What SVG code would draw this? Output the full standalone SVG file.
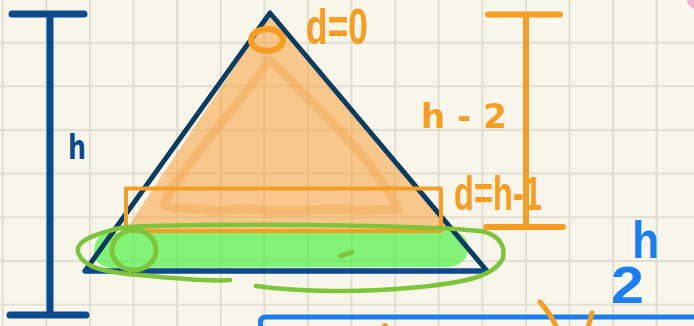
<svg xmlns="http://www.w3.org/2000/svg" width="694" height="326" viewBox="0 0 694 326">
<style>
.grid line{stroke:#e2dfd2;stroke-width:2}
.ink{fill:none;stroke-linecap:round;stroke-linejoin:round}
.hw{font-family:"Liberation Sans","DejaVu Sans",sans-serif;font-weight:bold}
.rd{font-family:"DejaVu Sans","Liberation Sans",sans-serif;font-weight:bold}
.or{stroke:#f59e25}
.gr{stroke:#7dc43a}
</style>
<rect width="694" height="326" fill="#f8f6ea"/>
<g class="grid" id="grid">
<line x1="2.7" y1="0" x2="2.7" y2="326"/><line x1="46.3" y1="0" x2="46.3" y2="326"/><line x1="89.9" y1="0" x2="89.9" y2="326"/><line x1="133.5" y1="0" x2="133.5" y2="326"/><line x1="177.1" y1="0" x2="177.1" y2="326"/><line x1="220.7" y1="0" x2="220.7" y2="326"/><line x1="264.3" y1="0" x2="264.3" y2="326"/><line x1="307.9" y1="0" x2="307.9" y2="326"/><line x1="351.5" y1="0" x2="351.5" y2="326"/><line x1="395.1" y1="0" x2="395.1" y2="326"/><line x1="438.7" y1="0" x2="438.7" y2="326"/><line x1="482.3" y1="0" x2="482.3" y2="326"/><line x1="525.9" y1="0" x2="525.9" y2="326"/><line x1="569.5" y1="0" x2="569.5" y2="326"/><line x1="613.1" y1="0" x2="613.1" y2="326"/><line x1="656.7" y1="0" x2="656.7" y2="326"/>
<line x1="0" y1="42.7" x2="694" y2="42.7"/><line x1="0" y1="86.3" x2="694" y2="86.3"/><line x1="0" y1="130" x2="694" y2="130"/><line x1="0" y1="173.6" x2="694" y2="173.6"/><line x1="0" y1="217.3" x2="694" y2="217.3"/><line x1="0" y1="261" x2="694" y2="261"/><line x1="0" y1="304.6" x2="694" y2="304.6"/>
</g>
<circle id="pink-dot" cx="701" cy="-4" r="15" fill="#f5b3d6"/>
<g id="fills">
<path d="M270,14 L455,231 L125,231 Z" fill="#f5a03c" fill-opacity="0.55"/>
<path d="M269,60 C250,90 215,130 200,150 C185,170 172,185 164,204 C175,212 190,206 205,210 C225,213 240,206 260,210 C290,214 320,207 350,210 C370,212 385,208 398,210 C390,190 380,180 370,165 C350,140 320,110 300,90 C285,75 276,64 269,60 Z" fill="none" stroke="#f49a3e" stroke-opacity="0.33" stroke-width="9" stroke-linejoin="round"/>
<path d="M108,233 L450,231 Q470,233 468,252 Q464,266 448,267 L112,268 Q93,266 94,250 Q96,234 108,233 Z" fill="#3cf032" fill-opacity="0.62"/>
</g>
<g id="triangle">
<path d="M85,271 L270,13 L487,271 Z" class="ink" stroke="#0c3c60" stroke-width="5"/>
<line x1="85" y1="271" x2="487" y2="271" stroke="#0b4a8c" stroke-width="5" stroke-linecap="round"/>
</g>
<g id="height-bracket">
<path d="M12,14 H84 M50,14 V315 M10,315 H86" class="ink" stroke="#0b4a8c" stroke-width="7"/>
<text x="68" y="159" class="rd" font-size="34" fill="#0b4a8c" textLength="18" lengthAdjust="spacingAndGlyphs">h</text>
</g>
<g id="apex-node">
<ellipse cx="267" cy="40" rx="16" ry="11" class="ink or" stroke-width="6"/>
<text x="306" y="44" class="hw" font-size="50" fill="#f59e25" textLength="62" lengthAdjust="spacingAndGlyphs">d=0</text>
</g>
<g id="inner-bracket">
<path d="M488,14.5 H560 M526,14.5 V227 M486,227 H563" class="ink or" stroke-width="6"/>
<text x="421" y="128" class="rd" font-size="34" fill="#f59e25" textLength="86" lengthAdjust="spacingAndGlyphs">h - 2</text>
</g>
<g id="row-box">
<rect x="126" y="188.5" width="315" height="42.5" class="ink or" stroke-width="4" stroke-linejoin="miter"/>
<text x="454" y="210" class="hw" font-size="48" fill="#f59e25" textLength="88" lengthAdjust="spacingAndGlyphs">d=h-1</text>
</g>
<g id="bottom-row">
<path d="M480,231 C430,226 300,224 200,225 C150,226 125,226 112,230 C90,236 76,242 78,252 C82,266 100,272 140,275 C170,278 210,282 230,280" class="ink gr" stroke-width="4.5"/>
<path d="M256,286 C300,292 360,293 420,287 C470,282 495,275 503,258 C506,243 495,233 480,231" class="ink gr" stroke-width="4.5"/>
<ellipse cx="134" cy="250" rx="22" ry="20" class="ink gr" stroke-width="5"/>
<path d="M341,256 L352,252" class="ink gr" stroke-width="5"/>
</g>
<g id="half-label">
<text x="632" y="258" class="hw" font-size="52" fill="#1a7ef2" textLength="27" lengthAdjust="spacingAndGlyphs">h</text>
<text x="611" y="303" class="hw" font-size="52" fill="#1a7ef2" textLength="33" lengthAdjust="spacingAndGlyphs">2</text>
</g>
<g id="bottom-box">
<path d="M260.5,330 V322 Q260.5,317 266,317 H700" class="ink" stroke="#1a7ef2" stroke-width="5"/>
<path d="M540,302 Q550,313 557,328 M592,313 L588,328" class="ink or" stroke-width="5"/>
<circle cx="385" cy="326" r="3" fill="#f59e25"/>
</g>
</svg>
